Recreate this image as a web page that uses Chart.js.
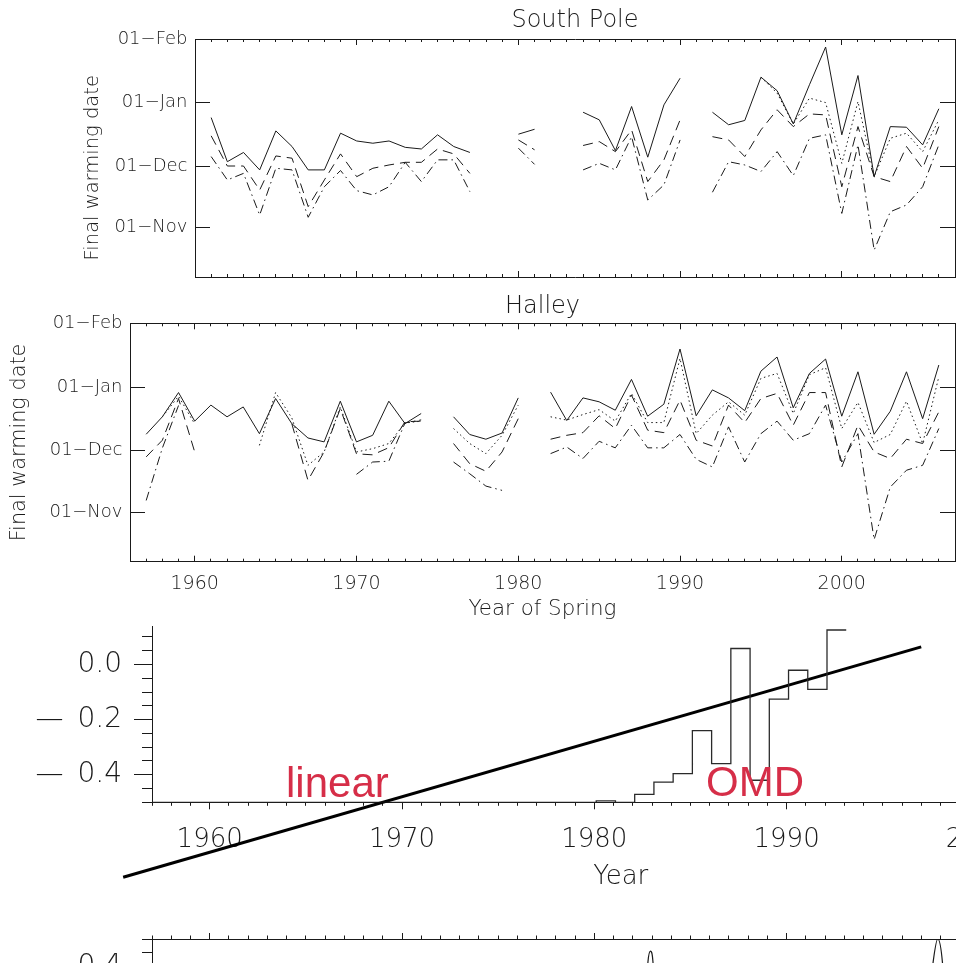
<!DOCTYPE html>
<html><head><meta charset="utf-8">
<script src="https://cdn.jsdelivr.net/npm/chart.js@4.4.1/dist/chart.umd.min.js"></script>
<style>
html,body{margin:0;padding:0;background:#fff;overflow:hidden;width:956px;height:963px;position:relative}
canvas{position:absolute;left:0}
.lbl{position:absolute;font-family:'Liberation Sans',Arial,sans-serif;font-size:42px;line-height:42px;color:rgb(214,46,72);white-space:nowrap}
</style></head><body>
<canvas id="c1" width="956" height="300" style="top:0px"></canvas>
<canvas id="c2" width="956" height="335" style="top:290px"></canvas>
<canvas id="c3" width="1100" height="300" style="top:600px"></canvas>
<canvas id="c4" width="1100" height="250" style="top:925px"></canvas>
<div class="lbl" style="left:286px;top:762px">linear</div>
<div class="lbl" style="left:706px;top:761px">OMD</div>
<script>
// ---------------- data ----------------
const years = [1956,1957,1958,1959,1960,1961,1962,1963,1964,1965,
               1966,1967,1968,1969,1970,1971,1972,1973,1974,1975,
               1976,1977,1978,1979,1980,1981,1982,1983,1984,1985,
               1986,1987,1988,1989,1990,1991,1992,1993,1994,1995,
               1996,1997,1998,1999,2000,2001,2002,2003,2004,2005,2006];
const yearTicks = [1960,1970,1980,1990,2000];
// final warming date in days relative to 01-Dec
const monthTickValues = [-30, 0, 31, 62];
const monthTickLabels = ['01\u2212Nov','01\u2212Dec','01\u2212Jan','01\u2212Feb'];

const spSolid = [null,null,null,null,null,23.7,2.2,6.7,-1.8,17.2,
                 9.6,-1.8,-1.8,16.1,12.3,11.2,12.3,9.2,8.4,15.3,
                 9.6,6.7,null,null,15.6,18.0,null,null,26.3,22.6,
                 7.6,29.1,4.4,29.9,42.9,null,26.3,20.2,22.3,43.4,
                 36.8,20.6,39.7,58.1,15.3,44.2,-5.1,19.3,19.0,10.4,28.0];
const spDotted = [null,null,null,null,null,null,null,null,null,null,
                  null,null,null,null,null,null,null,null,null,null,
                  null,null,null,null,null,null,null,null,null,null,
                  null,null,null,null,null,null,null,null,null,43.4,
                  35.6,20.6,33.2,31.0,1.4,31.5,-5.1,13.6,16.1,7.1,22.6];
const spDashed = [null,null,null,null,null,14.8,0.1,0.1,-11.6,5.0,
                  3.9,-19.7,-6.7,6.0,-5.1,-1.0,0.6,1.9,1.9,8.4,
                  6.0,-3.5,null,null,12.8,8.0,null,null,10.1,12.0,
                  7.1,17.7,-7.5,3.1,22.6,null,14.4,12.8,4.7,17.7,
                  27.5,19.3,25.5,25.0,-10.0,19.3,-5.1,-7.5,9.6,-1.0,19.3];
const spDashDot = [null,null,null,null,null,4.7,-6.7,-3.5,-23.8,-1.0,
                   -1.8,-24.9,-10.0,-2.1,-11.9,-14.0,-10.0,1.9,-7.5,3.1,
                   3.1,-12.4,null,null,8.8,0.9,null,null,-1.8,1.4,
                   -1.8,14.4,-16.5,-9.1,12.8,null,-12.7,2.2,0.6,-2.6,
                   7.1,-4.6,13.6,15.3,-23.0,10.4,-40.9,-22.2,-18.9,-10.0,10.4];

const haSolid = [null,8.0,16.5,28.3,14.4,22.2,16.5,21.3,8.3,25.4,
                 13.2,6.2,4.3,24.1,4.3,7.5,24.1,13.2,18.1,null,
                 16.5,7.9,5.6,8.6,25.7,null,28.5,14.7,25.7,23.8,
                 19.7,34.7,16.8,22.6,49.5,17.0,29.6,25.7,19.5,38.7,
                 45.6,20.9,37.6,44.6,16.8,38.4,8.0,19.2,38.4,15.6,41.7];
const haDotted = [null,null,16.5,26.5,13.0,null,null,null,2.6,28.3,
                  16.0,-7.1,-0.6,21.3,-0.6,1.0,3.5,13.5,14.4,null,
                  10.8,3.5,-1.4,7.5,22.2,null,16.5,14.9,17.6,20.0,
                  14.4,27.9,13.7,13.7,44.9,8.3,17.3,23.8,17.3,35.2,
                  37.6,18.1,37.0,40.4,10.8,23.5,4.0,7.9,24.1,3.5,36.0];
const haDashed = [null,-3.0,5.1,25.4,-0.6,null,null,null,null,null,
                  13.2,-14.4,-0.6,20.5,-1.5,-2.0,1.5,14.1,14.4,null,
                  3.5,-6.3,-10.0,-0.6,15.6,null,5.6,7.5,8.8,17.0,
                  10.8,27.1,10.0,8.8,24.6,5.1,2.3,22.2,13.7,25.4,
                  27.9,12.4,28.3,28.3,-7.9,12.4,-0.6,-3.8,5.6,3.5,18.9];
const haDashDot = [null,-24.2,1.3,22.0,null,null,null,null,null,null,
                   null,null,null,null,-11.5,-5.5,-5.1,13.5,15.0,null,
                   -5.5,-11.2,-17.2,-19.3,null,null,-1.4,1.8,-3.8,4.6,
                   1.4,12.4,1.4,1.4,7.9,-4.2,-7.9,11.6,-5.5,8.3,
                   14.4,5.1,8.3,22.2,-5.5,8.3,-43.2,-17.7,-9.5,-7.1,10.8];

// third panel
const omdYears  = [1957,1980.1,1981.1,1982.1,1983.1,1984.1,1985.1,1986.1,1987.1,1988.1,1989.1,1990.1,1991.1,1992.1,1993.1];
const omdValues = [-0.5,-0.495,-0.5,-0.471,-0.427,-0.396,-0.24,-0.36,0.058,-0.42,-0.126,-0.021,-0.09,0.125,0.125];
const linearYears  = [1955.5, 1997.0];
const linearValues = [-0.772, 0.064];
const anomalyTicks  = [-0.4, -0.2, 0.0];
const anomalyLabels = ['\u2014\u20020.4','\u2014\u20020.2','0.0'];
const wideYearTicks = [1960,1970,1980,1990,2000];
// fourth (cut-off) panel
const lowerYears  = [1982.4,1982.7,1982.79,1982.92,1983.05,1983.12,1983.4,1997.2,1997.45,1997.62,1997.86,1998.1,1998.2,1998.45];
const lowerValues = [0.1,0.3,0.417,0.456,0.417,0.3,0.1,0.1,0.3,0.417,0.5,0.417,0.3,0.1];
const lowerTicks  = [0.0, 0.2, 0.4];
const lowerLabels = ['0.0','0.2','0.4'];

// ---------------- helpers ----------------
const INK = '#1a1a1a';
const F = "'DejaVu Sans', 'Liberation Sans', sans-serif";
const FW = 200;
function range(a,b,s){const r=[];for(let v=a;v<=b+1e-9;v+=s)r.push(Math.round(v*1000)/1000);return r;}
function pts(xs, ys){return xs.map((x,i)=>({x:x,y:ys[i]}));}
function ax(o){
  const horiz = o.pos==='top'||o.pos==='bottom';
  return {
    type:'linear', position:o.pos, min:o.min, max:o.max, weight:o.weight||0,
    afterBuildTicks: s=>{ s.ticks = o.vals.map(v=>({value:v})); },
    afterFit: s=>{ if(horiz) s.height=o.dim||0; else s.width=o.dim||0;
                   s.paddingTop=0; s.paddingBottom=0; s.paddingLeft=0; s.paddingRight=0; },
    grid:{display:true, drawOnChartArea:false, drawTicks:true, tickLength:o.len, tickWidth:1, color:INK, tickColor:INK, lineWidth:1},
    border:{display:!!o.border, color:INK, width:1},
    ticks: o.labels ? {display:true, autoSkip:false, maxRotation:0, minRotation:0, padding:o.pad, color:INK,
                       font:{family:F,size:o.fs,weight:FW}, callback:(v)=>o.labels(v)} : {display:false},
    title: o.title ? {display:true, text:o.title, color:INK, font:{family:F,size:o.tfs,weight:FW}, padding:o.tpad} : {display:false}
  };
}
const DOT=[1.5,3], DASH=[10,6], DASHDOT=[9,4,1.5,4];
function ds(vals, dash){return {data:pts(years, vals), borderColor:INK, borderWidth:1, borderDash:dash, pointRadius:0, fill:false, tension:0, spanGaps:false};}
function base(extra){
  return Object.assign({responsive:false, animation:false, devicePixelRatio:1, events:[],
    plugins:{legend:{display:false}, tooltip:{enabled:false}, title:{display:false}}}, extra);
}
const monthLabel = v => { const i = monthTickValues.indexOf(v); return i<0?'':monthTickLabels[i]; };
const yearLabel = v => String(v);

// ---------------- South Pole ----------------
new Chart(document.getElementById('c1'), {
  type:'line',
  data:{datasets:[ds(spSolid,[]), ds(spDotted,DOT), ds(spDashed,DASH), ds(spDashDot,DASHDOT)]},
  options: base({
    layout:{padding:{left:0,right:1,top:0,bottom:23}},
    scales:{
      x:  ax({pos:'bottom',min:1960,max:2007,vals:yearTicks,len:-6,border:true,weight:10}),
      xm: ax({pos:'bottom',min:1960,max:2007,vals:range(1960,2007,1),len:-3}),
      xt: ax({pos:'top',min:1960,max:2007,vals:yearTicks,len:-6,border:true,weight:10,dim:39,
              title:'South Pole',tfs:24,tpad:{top:6.6,bottom:0}}),
      xtm:ax({pos:'top',min:1960,max:2007,vals:range(1960,2007,1),len:-3}),
      y:  ax({pos:'left',min:-54,max:62,vals:monthTickValues,len:-15,border:true,weight:10,dim:195,
              labels:monthLabel,pad:22.5,fs:18,title:'Final warming date\u2002\u2002',tfs:19.5,tpad:{top:80.8,bottom:0}}),
      yr: ax({pos:'right',min:-54,max:62,vals:monthTickValues,len:-15,border:true})
    }
  })
});

// ---------------- Halley ----------------
new Chart(document.getElementById('c2'), {
  type:'line',
  data:{datasets:[ds(haSolid,[]), ds(haDotted,DOT), ds(haDashed,DASH), ds(haDashDot,DASHDOT)]},
  options: base({
    layout:{padding:{left:0,right:1,top:0,bottom:0}},
    scales:{
      x:  ax({pos:'bottom',min:1956,max:2007,vals:yearTicks,len:-6,border:true,weight:10,dim:63.3,
              labels:yearLabel,pad:16.9,fs:19,title:'Year of Spring',tfs:21.4,tpad:{top:0,bottom:3}}),
      xm: ax({pos:'bottom',min:1956,max:2007,vals:range(1956,2007,1),len:-3}),
      xt: ax({pos:'top',min:1956,max:2007,vals:yearTicks,len:-6,border:true,weight:10,dim:33.3,
              title:'Halley',tfs:24,tpad:{top:2.5,bottom:0}}),
      xtm:ax({pos:'top',min:1956,max:2007,vals:range(1956,2007,1),len:-3}),
      y:  ax({pos:'left',min:-54,max:62,vals:monthTickValues,len:-15,border:true,weight:10,dim:130,
              labels:monthLabel,pad:22.5,fs:18,title:'Final warming date',tfs:20.8,tpad:{top:7.5,bottom:0}}),
      yr: ax({pos:'right',min:-54,max:62,vals:monthTickValues,len:-15,border:true})
    }
  })
});

// ---------------- third panel ----------------
const anomLabel = v => { const i = anomalyTicks.findIndex(t=>Math.abs(t-v)<1e-6); return i<0?'':anomalyLabels[i]; };
new Chart(document.getElementById('c3'), {
  type:'line',
  data:{datasets:[
    {data:pts(omdYears,omdValues), stepped:'before', borderColor:'#2a2a2a', borderWidth:1.3, pointRadius:0, fill:false},
    {data:pts(linearYears,linearValues), borderColor:'#000', borderWidth:3, pointRadius:0, fill:false, clip:false}
  ]},
  options: base({
    layout:{padding:{left:0,right:10.5,top:26.7,bottom:0}},
    scales:{
      x:  ax({pos:'bottom',min:1957,max:2005.75,vals:wideYearTicks,len:7,border:true,weight:10,dim:97.7,
              labels:yearLabel,pad:15.1,fs:26,title:'Year',tfs:26,tpad:{top:0,bottom:7}}),
      x2: ax({pos:'bottom',min:1957,max:2005.75,vals:range(1957,2005,1),len:3.5}),
      y:  ax({pos:'left',min:-0.5,max:0.137,vals:anomalyTicks,len:18,border:true,weight:10,dim:152,
              labels:anomLabel,pad:12,fs:28}),
      y2: ax({pos:'left',min:-0.5,max:0.137,vals:range(-0.5,0.1,0.05),len:10})
    }
  })
});

// ---------------- fourth (cut) panel ----------------
const lowLabel = v => { const i = lowerTicks.findIndex(t=>Math.abs(t-v)<1e-6); return i<0?'':lowerLabels[i]; };
new Chart(document.getElementById('c4'), {
  type:'line',
  data:{datasets:[
    {data:pts(lowerYears,lowerValues), xAxisID:'xt', borderColor:'#1a1a1a', borderWidth:1.2, pointRadius:0, fill:false, cubicInterpolationMode:'monotone'}
  ]},
  options: base({
    layout:{padding:{left:0,right:10.5,top:0,bottom:0}},
    scales:{
      xt: ax({pos:'top',min:1957,max:2005.75,vals:wideYearTicks,len:6,border:true,weight:10,dim:14}),
      xtm:ax({pos:'top',min:1957,max:2005.75,vals:range(1957,2005,1),len:3.5}),
      y:  ax({pos:'left',min:-0.358,max:0.5,vals:lowerTicks,len:18,border:true,weight:10,dim:152,
              labels:lowLabel,pad:12,fs:28}),
      y2: ax({pos:'left',min:-0.358,max:0.5,vals:range(-0.35,0.5,0.05),len:10})
    }
  })
});
</script>
</body></html>
